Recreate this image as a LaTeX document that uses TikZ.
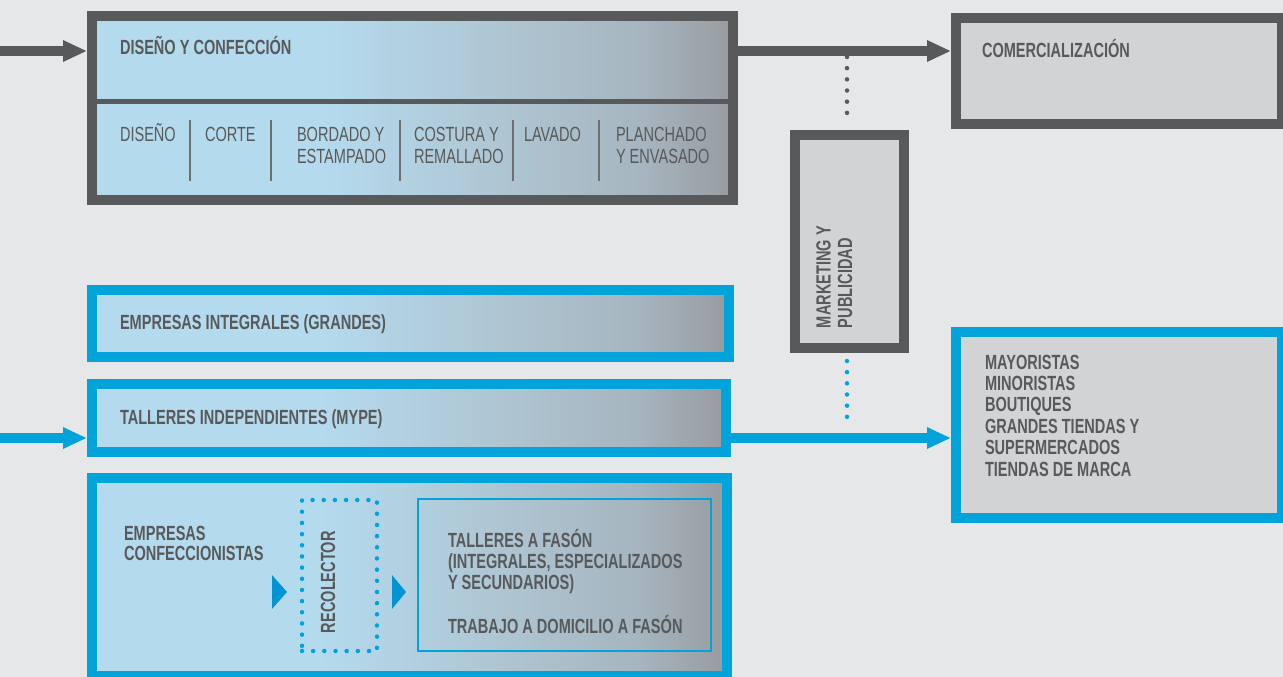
\documentclass[tikz,border=0pt]{standalone}
\usepackage{fontspec}
\setmainfont{Liberation Sans}[FakeStretch=0.71]
\usetikzlibrary{arrows.meta}
\definecolor{bg}{HTML}{E6E7E8}
\definecolor{dg}{HTML}{58595B}
\definecolor{bl}{HTML}{00A3DA}
\definecolor{lg}{HTML}{D1D3D4}
\definecolor{lb}{HTML}{B4DAEE}
\definecolor{gmA}{HTML}{AFC7D4}
\definecolor{gmB}{HTML}{A6B5BF}
\definecolor{gr}{HTML}{989BA0}
\definecolor{tri}{HTML}{0094D2}
\definecolor{tc}{HTML}{58595B}
\definecolor{sepc}{HTML}{6D6E71}
\pgfdeclarehorizontalshading{bluegray}{100bp}{color(0bp)=(lb); color(25bp)=(lb); color(43bp)=(lb); color(56bp)=(gmA); color(68bp)=(gmB); color(75bp)=(gr); color(100bp)=(gr)}
\newcommand\bsz{\fontsize{20.5}{21.4}\selectfont\bfseries}
\newcommand\rsz{\fontsize{20.5}{22}\selectfont}
\begin{document}
\begin{tikzpicture}[x=1pt,y=-1pt,
  box/.style={rectangle, inner sep=0pt, line width=10pt, outer sep=5pt, anchor=north west},
  gbox/.style={box, draw=dg, shading=bluegray},
  bbox/.style={box, draw=bl, shading=bluegray},
  gfill/.style={box, draw=dg, fill=lg},
  bfill/.style={box, draw=bl, fill=lg},
  lbl/.style={anchor=base west, inner sep=0pt, outer sep=0pt, text=tc, align=left, font=\bsz},
  reg/.style={lbl, font=\rsz},
  garrow/.style={draw=dg, line width=10pt, -{Triangle[width=20pt,length=24pt]}},
  barrow/.style={draw=bl, line width=10pt, -{Triangle[width=20pt,length=24pt]}},
  gdots/.style={draw=dg, line width=4.5pt, line cap=round, dash pattern=on 0pt off 11.17pt},
  bdots/.style={gdots, draw=bl},
  colsep/.style={draw=sepc, line width=1.5pt},
  rowsep/.style={draw=dg, line width=5pt}]
\fill[bg] (0,0) rectangle (1283,677);
\useasboundingbox (0,0) rectangle (1283,677);
\clip (0,0) rectangle (1283,677);
% boxes
\node[gbox, minimum width=641pt, minimum height=184pt] (dc) at (87,11) {};
\node[gfill, minimum width=326pt, minimum height=106pt] (com) at (951,13) {};
\node[gfill, minimum width=109pt, minimum height=213pt] (mkt) at (790,130) {};
\node[bbox, minimum width=637pt, minimum height=67pt] (emp) at (87,285) {};
\node[bbox, minimum width=634pt, minimum height=68pt] (tal) at (87,379) {};
\node[bbox, minimum width=635pt, minimum height=198pt] (conf) at (87,473) {};
\node[bfill, minimum width=326pt, minimum height=186pt] (may) at (951,327) {};
\node[rectangle, draw=bl, line width=2pt, inner sep=0pt, outer sep=1pt, anchor=north west, minimum width=293pt, minimum height=152pt] (fas) at (417,498) {};
\node[rectangle, bdots, inner sep=0pt, outer sep=0pt, anchor=north west, minimum width=75pt, minimum height=151pt] (rec) at (302,500) {};
% dividers in top box
\draw[rowsep] (92,101.5) -- (733,101.5);
\foreach \xx in {190,271,400,513,599} \draw[colsep] (\xx,120) -- (\xx,181);
% arrows
\coordinate (a1) at (0,51);
\draw[garrow] (a1) -- (a1 -| dc.west);
\draw[garrow] (dc.east |- a1) -- (com.west |- a1);
\coordinate (a2) at (0,438);
\draw[barrow] (a2) -- (a2 -| tal.west);
\draw[barrow] (tal.east |- a2) -- (may.west |- a2);
% dotted links
\coordinate (g1) at (847,57);
\coordinate (g2) at (847,124);
\draw[gdots] (g1) -- (g2);
\coordinate (b1) at (847,361);
\coordinate (b2) at (847,428);
\draw[bdots] (b1) -- (b2);
% small triangles
\fill[tri] (272,575) -- (287,592) -- (272,609) -- cycle;
\fill[tri] (392,575) -- (406,592) -- (392,609) -- cycle;
% texts (base west = baseline of the last line)
\node[lbl] (t1) at (120,55) {DISEÑO Y CONFECCIÓN};
\node[reg] (c1) at (120,141) {DISEÑO};
\node[reg] (c2) at (205,141) {CORTE};
\node[reg] (c3) at (297,163) {BORDADO Y\\ESTAMPADO};
\node[reg] (c4) at (414,163) {COSTURA Y\\REMALLADO};
\node[reg] (c5) at (524,141) {LAVADO};
\node[reg] (c6) at (616,163) {PLANCHADO\\Y ENVASADO};
\node[lbl] (tcom) at (982,58) {COMERCIALIZACIÓN};
\node[lbl, rotate=90] (tmkt) at (852,328) {MARKETING Y\\PUBLICIDAD};
\node[lbl] (temp) at (120,329) {EMPRESAS INTEGRALES (GRANDES)};
\node[lbl] (ttal) at (120,424) {TALLERES INDEPENDIENTES (MYPE)};
\node[lbl, font=\fontsize{20.5}{20}\selectfont\bfseries] (tconf) at (124,560) {EMPRESAS\\CONFECCIONISTAS};
\node[lbl, rotate=90] (trec) at (335,633) {RECOLECTOR};
\node[lbl, font=\fontsize{20.5}{21}\selectfont\bfseries] (tfas) at (448,589) {TALLERES A FASÓN\\(INTEGRALES, ESPECIALIZADOS\\Y SECUNDARIOS)};
\node[lbl] (tdom) at (448,633) {TRABAJO A DOMICILIO A FASÓN};
\node[lbl] (tmay) at (985,476) {MAYORISTAS\\MINORISTAS\\BOUTIQUES\\GRANDES TIENDAS Y\\SUPERMERCADOS\\TIENDAS DE MARCA};
\end{tikzpicture}
\end{document}
